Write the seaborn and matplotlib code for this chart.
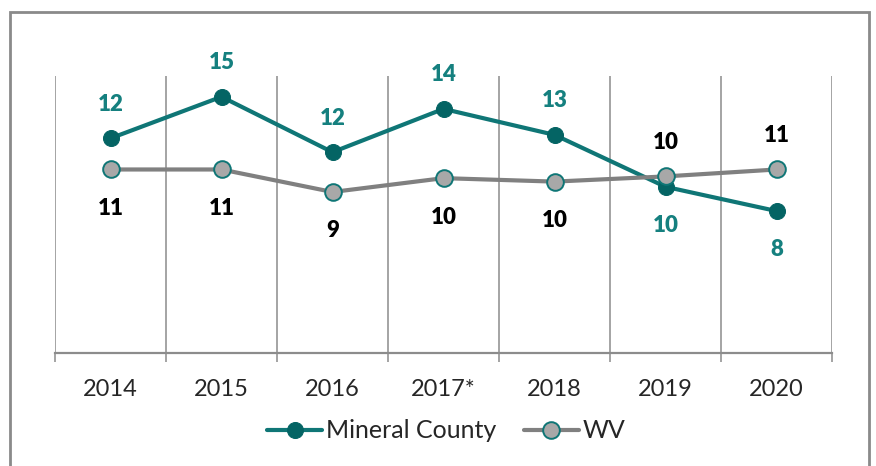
import matplotlib
matplotlib.use("Agg")
import matplotlib.pyplot as plt
import seaborn as sns
import pandas as pd
from matplotlib.patches import Rectangle

# === DATA ===
years = ["2014", "2015", "2016", "2017*", "2018", "2019", "2020"]
mineral = [12.4, 14.8, 11.6, 14.1, 12.6, 9.6, 8.2]
wv = [10.6, 10.6, 9.3, 10.1, 9.9, 10.2, 10.6]
# label placement: +1 above the point, -1 below
mineral_side = [1, 1, 1, 1, 1, -1, -1]
wv_side = [-1, -1, -1, -1, -1, 1, 1]

TEAL = "#0f7676"
TEAL_DARK = "#046464"
TEAL_TXT = "#15807f"
GRAY = "#808080"
GRAY_FILL = "#a8a8a8"
GRID = "#8c8c8c"

df = pd.DataFrame({"Year": years, "Mineral County": mineral, "WV": wv})

sns.set_style("white")
plt.rcParams["font.family"] = ["Lato", "DejaVu Sans"]

W, H = 876, 466
fig = plt.figure(figsize=(W / 100, H / 100), dpi=100)
ax = fig.add_axes([55 / W, (H - 353) / H, (832 - 55) / W, (353 - 76) / H])

sns.lineplot(data=df, x="Year", y="Mineral County", ax=ax, color=TEAL, lw=3,
             marker="o", markersize=11.5, markerfacecolor=TEAL_DARK,
             markeredgecolor=TEAL_DARK, label="Mineral County", sort=False)
sns.lineplot(data=df, x="Year", y="WV", ax=ax, color=GRAY, lw=3,
             marker="o", markersize=12, markerfacecolor=GRAY_FILL,
             markeredgecolor=TEAL, markeredgewidth=1.4, label="WV", sort=False)

# data labels (offset in points, above or below the marker)
def offset(s):
    return 24.5 if s > 0 else -28

for i, (v, s) in enumerate(zip(mineral, mineral_side)):
    ax.annotate(f"{v:.0f}", (i, v), xytext=(0, offset(s)), textcoords="offset points",
                ha="center", va="center", fontsize=16, fontweight="heavy", color=TEAL_TXT)
for i, (v, s) in enumerate(zip(wv, wv_side)):
    ax.annotate(f"{v:.0f}", (i, v), xytext=(0, offset(s)), textcoords="offset points",
                ha="center", va="center", fontsize=16, fontweight="heavy", color="black")

ax.set_xlim(-0.5, len(years) - 0.5)
ax.set_ylim(0, 16)
ax.set_xlabel("")
ax.set_ylabel("")
ax.set_yticks([])

# category boundaries as gridlines + outward ticks
bounds = [i - 0.5 for i in range(len(years) + 1)]
ax.set_xticks(bounds, minor=True)
ax.tick_params(axis="x", which="minor", bottom=True, length=6.5, width=1.1,
               color=GRID, direction="out")
ax.tick_params(axis="x", which="major", bottom=False, length=0, pad=19, labelsize=17)
ax.grid(True, axis="x", which="minor", color=GRID, lw=1.1)
ax.grid(False, axis="x", which="major")

for side in ["top", "left", "right"]:
    ax.spines[side].set_visible(False)
ax.spines["bottom"].set_color(GRID)
ax.spines["bottom"].set_linewidth(1.6)

ax.legend_.remove()
handles, labels = ax.get_legend_handles_labels()
fig.legend(handles, labels, loc="center", bbox_to_anchor=(446 / W, 1 - 431 / H),
           ncol=2, frameon=False, fontsize=18, handlelength=2.2,
           handletextpad=0.15, columnspacing=1.1)

# outer border
fig.patches.append(Rectangle((10 / W, -0.05), (869 - 10) / W, (H - 12) / H + 0.05,
                             transform=fig.transFigure, fill=False,
                             edgecolor="#8a8a8a", lw=2))

fig.savefig("out.png", dpi=100)
